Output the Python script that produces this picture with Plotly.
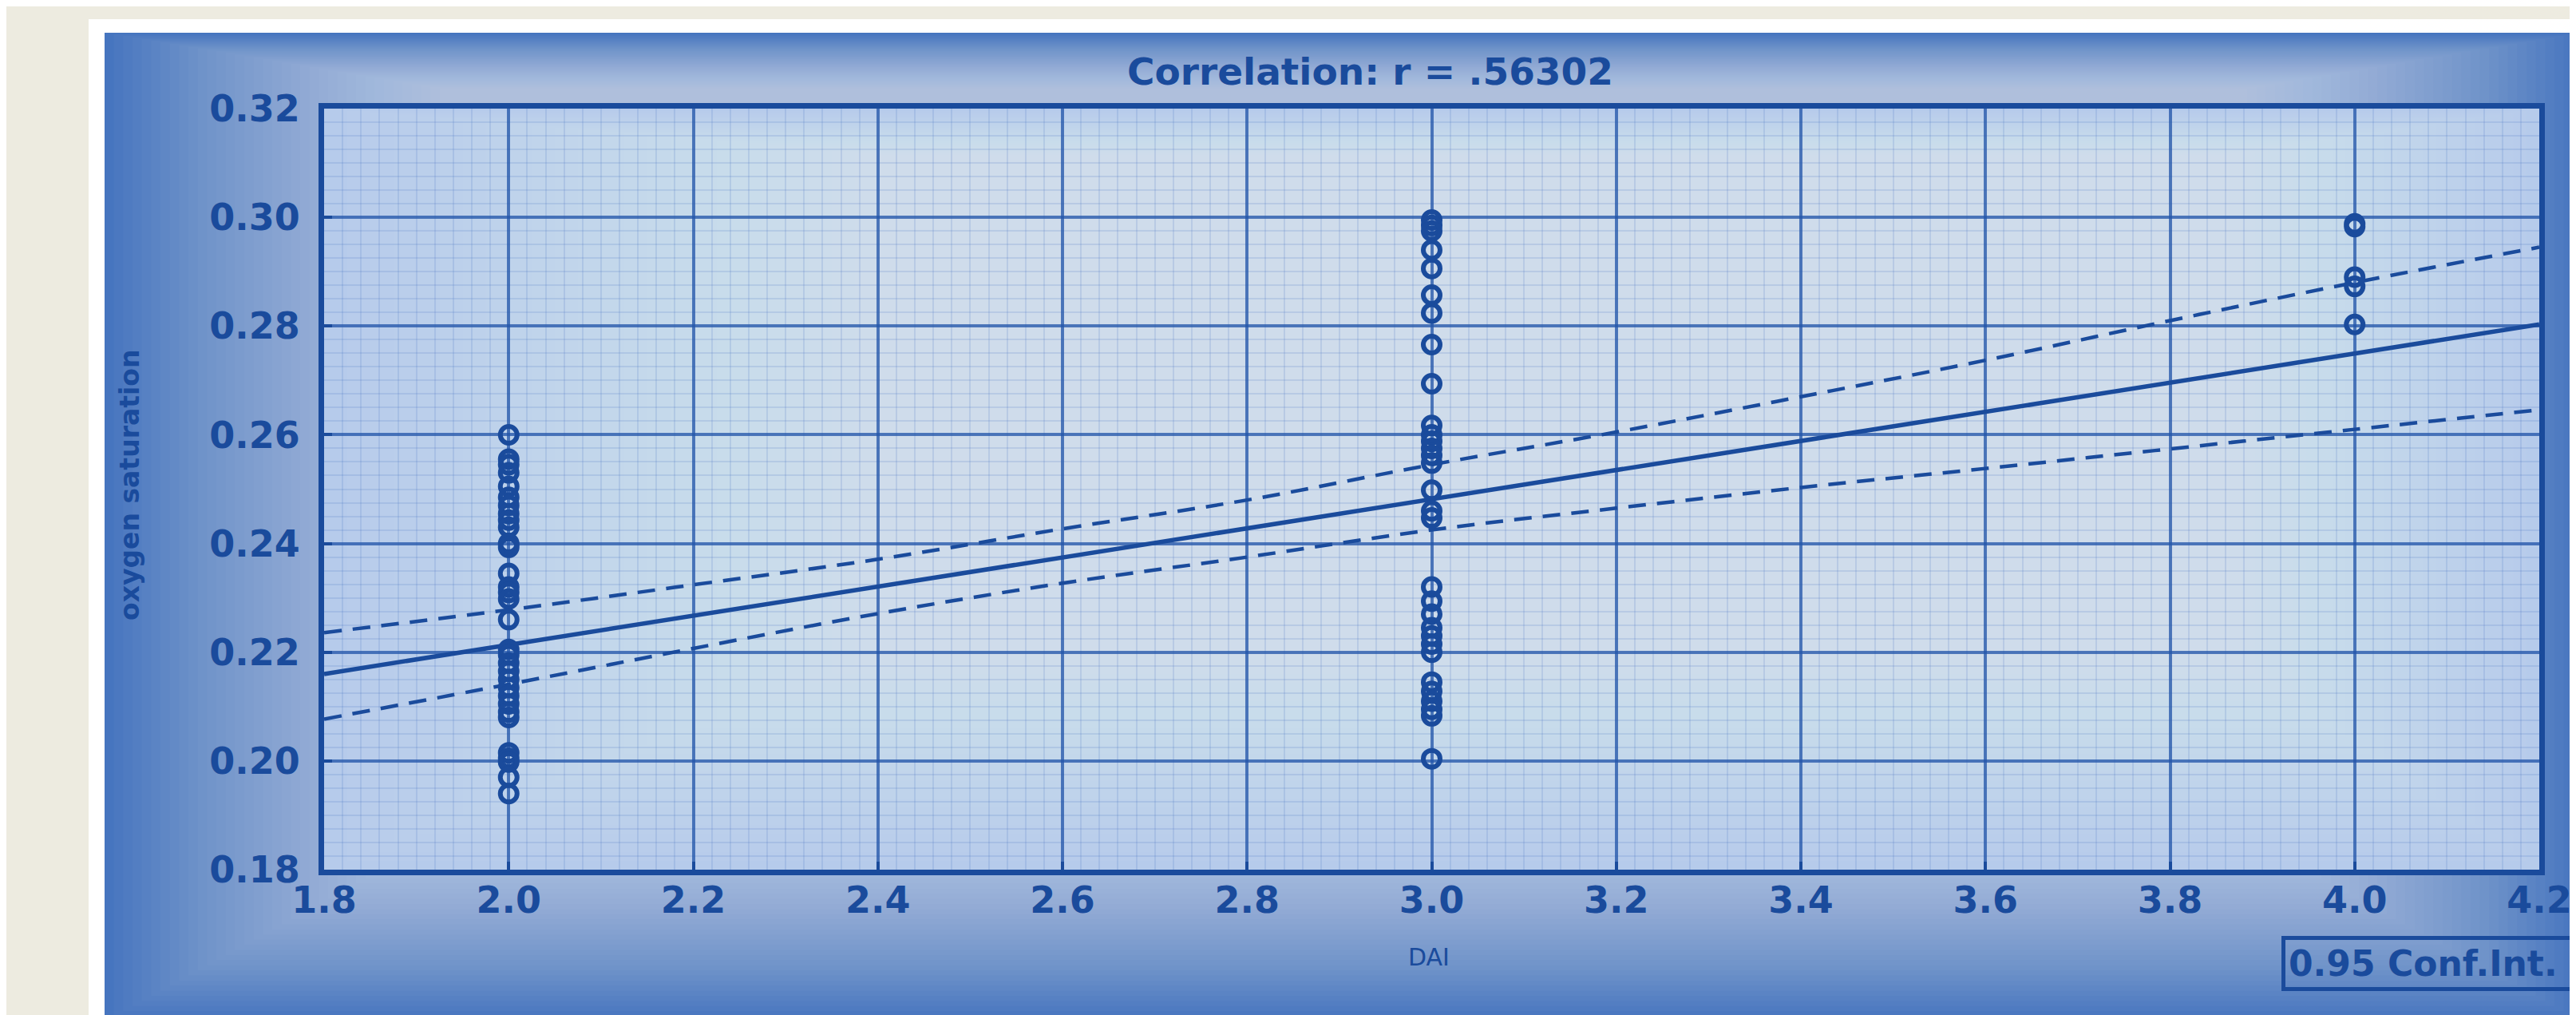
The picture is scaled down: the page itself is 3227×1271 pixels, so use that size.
import plotly.graph_objects as go

# ---------------- data ----------------
dai_levels = [2.0, 3.0, 4.0]
values_dai2 = [0.2600, 0.2555, 0.2545, 0.2530, 0.2505, 0.2485, 0.2470, 0.2455,
               0.2443, 0.2430, 0.2400, 0.2393, 0.2345, 0.2320, 0.2310, 0.2298,
               0.2260, 0.2205, 0.2195, 0.2180, 0.2165, 0.2150, 0.2135, 0.2120,
               0.2105, 0.2090, 0.2080, 0.2015, 0.2005, 0.1998, 0.1970, 0.1940]
values_dai3 = [0.2995, 0.2985, 0.2975, 0.2940, 0.2906, 0.2857, 0.2824, 0.2766,
               0.2694, 0.2617, 0.2600, 0.2588, 0.2575, 0.2562, 0.2548, 0.2498,
               0.2460, 0.2447, 0.2320, 0.2294, 0.2270, 0.2245, 0.2230, 0.2215,
               0.2200, 0.2145, 0.2128, 0.2110, 0.2095, 0.2083, 0.2004]
values_dai4 = [0.2988, 0.2983, 0.2890, 0.2873, 0.2803]

fit_x = [1.8, 4.2]
fit_y = [0.2160, 0.2803]

ci_x = [1.8, 2.0, 2.2, 2.4, 2.6, 2.8, 3.0, 3.2, 3.4, 3.6, 3.8, 4.0, 4.2]
ci_upper = [0.2236, 0.2278, 0.2324, 0.2371, 0.2427, 0.2480, 0.2545, 0.2605,
            0.2670, 0.2737, 0.2810, 0.2880, 0.2945]
ci_lower = [0.2077, 0.2141, 0.2207, 0.2271, 0.2327, 0.2375, 0.2425, 0.2465,
            0.2503, 0.2538, 0.2574, 0.2610, 0.2646]

x_ticks = [1.8, 2.0, 2.2, 2.4, 2.6, 2.8, 3.0, 3.2, 3.4, 3.6, 3.8, 4.0, 4.2]
y_ticks = [0.18, 0.20, 0.22, 0.24, 0.26, 0.28, 0.30, 0.32]

title_text = "Correlation: r = .56302"
x_title = "DAI"
y_title = "oxygen saturation"
legend_text = "0.95 Conf.Int."

# ---------------- layout geometry ----------------
W, H = 3227, 1271
ML, MR, MT, MB = 398, 54, 128, 190
PW, PH = W - ML - MR, H - MT - MB

def px(X):
    return (X - ML) / PW

def py(Y):
    return (H - MB - Y) / PH

INK = "#1A4B9C"
FONT = "DejaVu Sans, Liberation Sans, Arial, sans-serif"

# group data into scatter arrays
xs, ys = [], []
for lvl, vals in zip(dai_levels, [values_dai2, values_dai3, values_dai4]):
    xs += [lvl] * len(vals)
    ys += vals

fig = go.Figure()
fig.add_trace(go.Scatter(x=ci_x, y=ci_upper, mode="lines", line_shape="spline",
                         line=dict(color=INK, width=4.5, dash="22px,14px"),
                         showlegend=False, hoverinfo="skip"))
fig.add_trace(go.Scatter(x=ci_x, y=ci_lower, mode="lines", line_shape="spline",
                         line=dict(color=INK, width=4.5, dash="22px,14px"),
                         showlegend=False, hoverinfo="skip"))
fig.add_trace(go.Scatter(x=fit_x, y=fit_y, mode="lines",
                         line=dict(color=INK, width=5.5), showlegend=False))
fig.add_trace(go.Scatter(x=xs, y=ys, mode="markers",
                         marker=dict(symbol="circle-open", size=21,
                                     line=dict(color=INK, width=6), color=INK),
                         showlegend=False))

shapes = []
# white photo frame and blue picture area
shapes.append(dict(type="rect", xref="paper", yref="paper", layer="below",
                   x0=px(103), x1=px(W + 5), y0=py(H + 5), y1=py(16),
                   fillcolor="#FFFFFF", line=dict(width=0)))
shapes.append(dict(type="rect", xref="paper", yref="paper", layer="below",
                   x0=px(123), x1=px(W + 5), y0=py(H + 5), y1=py(33),
                   fillcolor="#4675BF", line=dict(width=0)))
# vignette: many nested faint light rectangles (smooth gradient)
steps = 36
for i in range(steps):
    f = (i + 1) / steps
    x0 = 123 + f * 420
    x1 = W - f * 420
    y0 = 33 + f * 70
    y1 = H - f * 230
    shapes.append(dict(type="rect", xref="paper", yref="paper", layer="below",
                       x0=px(x0), x1=px(x1), y0=py(y1), y1=py(y0),
                       fillcolor="rgba(255,255,255,0.026)", line=dict(width=0)))
# plot paper area (lighter)
shapes.append(dict(type="rect", xref="paper", yref="paper", layer="below",
                   x0=0, x1=1, y0=0, y1=1,
                   fillcolor="#B6CBEB", line=dict(width=0)))
steps_in = 24
for i in range(steps_in):
    f = (i + 1) / steps_in
    shapes.append(dict(type="rect", xref="paper", yref="paper", layer="below",
                       x0=0.0 + f * 0.25, x1=1 - f * 0.14, y0=0.0 + f * 0.28,
                       y1=1 - f * 0.06,
                       fillcolor="rgba(255,255,255,0.026)", line=dict(width=0)))

annotations = [
    dict(text="<b>" + title_text + "</b>", xref="paper", yref="paper",
         x=px(1708), y=py(82), xanchor="center", yanchor="middle",
         showarrow=False, font=dict(family=FONT, size=47, color=INK)),
    dict(text=x_title, xref="paper", yref="paper",
         x=px(1782), y=py(1190), xanchor="center", yanchor="middle",
         showarrow=False, font=dict(family=FONT, size=30, color=INK)),
    dict(text="<b>" + y_title + "</b>", xref="paper", yref="paper",
         x=px(154), y=py(600), xanchor="center", yanchor="middle", textangle=-90,
         showarrow=False, font=dict(family=FONT, size=33, color=INK)),
    dict(text="<b>" + legend_text + "</b>&nbsp;&nbsp;&nbsp;", xref="paper", yref="paper",
         x=px(2850), y=py(1198), xanchor="left", yanchor="middle",
         showarrow=False, font=dict(family=FONT, size=44, color=INK),
         bordercolor=INK, borderwidth=5, borderpad=4, bgcolor="rgba(0,0,0,0)"),
]

axis_common = dict(
    showline=True, linecolor=INK, linewidth=7, mirror=True,
    showgrid=True, gridcolor="rgba(35,85,170,0.75)", gridwidth=4,
    ticks="inside", ticklen=10, tickwidth=4, tickcolor=INK,
    tickfont=dict(family=FONT, size=46, color=INK, weight="bold"),
    zeroline=False,
)

fig.update_layout(
    width=W, height=H,
    margin=dict(l=ML, r=MR, t=MT, b=MB, autoexpand=False),
    paper_bgcolor="#EDEBE0",
    plot_bgcolor="rgba(0,0,0,0)",
    shapes=shapes,
    annotations=annotations,
    xaxis=dict(range=[1.8, 4.2], tickvals=x_ticks,
               ticktext=[f"{v:.1f}" for v in x_ticks],
               ticklabelstandoff=-8,
               minor=dict(dtick=0.02, showgrid=True,
                          gridcolor="rgba(70,115,190,0.16)", gridwidth=2),
               **axis_common),
    yaxis=dict(range=[0.18, 0.32], tickvals=y_ticks,
               ticktext=[f"{v:.2f}" for v in y_ticks],
               ticklabelstandoff=14,
               minor=dict(dtick=0.0025, showgrid=True,
                          gridcolor="rgba(70,115,190,0.16)", gridwidth=2),
               **axis_common),
    showlegend=False,
)

fig.write_html("out.html")
